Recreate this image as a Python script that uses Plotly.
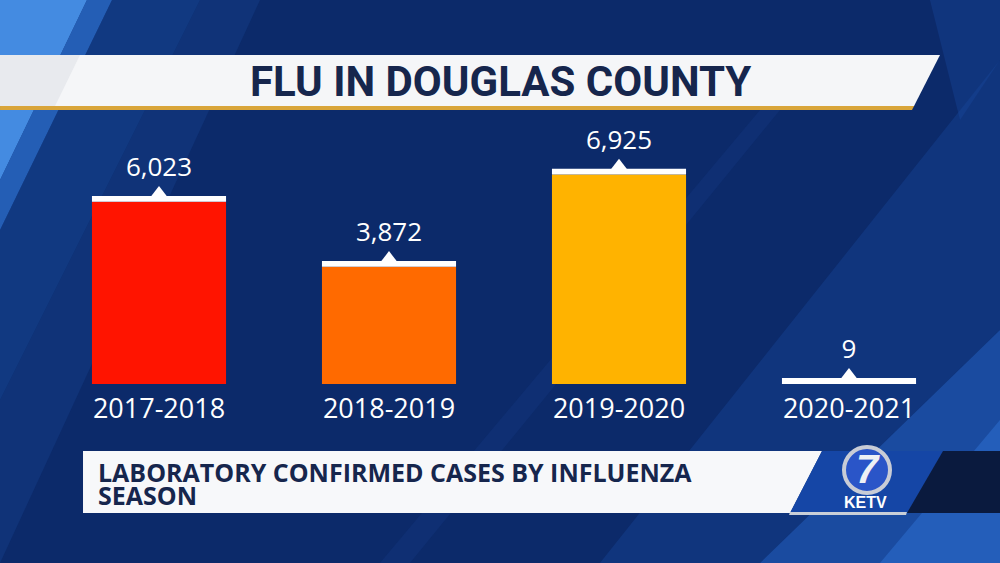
import plotly.graph_objects as go

# data
seasons = ["2017-2018", "2018-2019", "2019-2020", "2020-2021"]
cases = [6023, 3872, 6925, 9]
bar_colors = ["#ff1400", "#ff6a00", "#ffb300", "#ffffff"]
title_text = "FLU IN DOUGLAS COUNTY"
subtitle_lines = ["LABORATORY CONFIRMED CASES BY INFLUENZA", "SEASON"]

W, H = 1000, 563
ML, MR, MT, MB = 44, 36, 142, 179
CAP = 190  # white cap thickness in data units


def px(x):
    return (x - ML) / (W - ML - MR)


def py(y):
    return (H - MB - y) / (H - MT - MB)


def poly(points, color, opacity=1.0, layer="below"):
    d = "M " + " L ".join(f"{px(a):.4f},{py(b):.4f}" for a, b in points) + " Z"
    return dict(type="path", xref="paper", yref="paper", path=d,
                fillcolor=color, line=dict(width=0), opacity=opacity, layer=layer)


def label(x, y, text, font, **kw):
    return dict(x=px(x), y=py(y), xref="paper", yref="paper", text=text, showarrow=False,
                xanchor=kw.pop("xanchor", "center"), yanchor="middle", font=font, **kw)


fig = go.Figure()
fig.add_trace(go.Bar(x=seasons, y=cases, marker=dict(color=bar_colors, line=dict(width=0)),
                     hoverinfo="skip"))
fig.add_trace(go.Bar(x=seasons, y=[CAP] * len(cases), base=cases,
                     marker=dict(color="white", line=dict(width=0)), hoverinfo="skip"))
fig.add_trace(go.Scatter(x=seasons, y=[v + CAP for v in cases], mode="markers+text",
                         marker=dict(symbol="triangle-up", size=20, color="white"),
                         text=[f"{v:,}" for v in cases], textposition="top center",
                         textfont=dict(family="Open Sans", size=26, color="white"),
                         cliponaxis=False, hoverinfo="skip"))

shapes = [
    # background stripes
    poly([(0, 0), (87, 0), (0, 180)], "#4a96ee", 0.9),
    poly([(87, 0), (112, 0), (0, 230), (0, 180)], "#2f75d6", 0.7),
    poly([(0, 230), (112, 0), (200, 0), (0, 400)], "#1d55ad", 0.35),
    poly([(0, 400), (200, 0), (260, 0), (0, 563)], "#1a4ea3", 0.25),
    poly([(600, 563), (1000, 60), (1000, 330), (760, 563)], "#1b4fa8", 0.3),
    poly([(760, 563), (1000, 330), (1000, 563)], "#2563c4", 0.6),
    poly([(880, 563), (1000, 420), (1000, 563)], "#2e72d4", 0.5),
    poly([(930, 0), (1000, 0), (1000, 60), (960, 120)], "#1a4aa0", 0.35),
    poly([(380, 563), (760, 110), (780, 110), (410, 563)], "#163f90", 0.25),
    # title banner
    poly([(0, 55), (940, 55), (914, 106), (0, 106)], "#f5f6f8", 1, "above"),
    poly([(0, 55), (80, 55), (55, 106), (0, 106)], "#e8eaee", 1, "above"),
    poly([(0, 106), (914, 106), (912, 110), (0, 110)], "#d9a53a", 1, "above"),
    # lower third
    poly([(83, 451), (822, 451), (790, 513), (83, 513)], "#f7f8fa", 1, "above"),
    poly([(822, 451), (943, 451), (907, 513), (790, 513)], "#1546a6", 1, "above"),
    poly([(943, 451), (1000, 451), (1000, 513), (907, 513)], "#0a1a3e", 1, "above"),
    poly([(790, 512), (907, 512), (906, 515), (789, 515)], "#c9cfd8", 1, "above"),
    # logo circle
    dict(type="circle", xref="paper", yref="paper", x0=px(844), x1=px(890), y0=py(493), y1=py(447),
         fillcolor="#2a55c8", line=dict(color="#c8ccd6", width=4), layer="above"),
]

navy = "#16264d"
annotations = [
    label(500, 81, f"<b>{title_text}</b>", dict(family="Roboto", size=42, color=navy)),
    label(96, 472, f"<b>{subtitle_lines[0]}</b>", dict(family="Open Sans", size=25, color=navy),
          xanchor="left"),
    label(96, 495, f"<b>{subtitle_lines[1]}</b>", dict(family="Open Sans", size=25, color=navy),
          xanchor="left"),
    label(868, 469, "<b><i>7</i></b>", dict(family="Liberation Sans", size=40, color="#eef0f5")),
    label(865, 502, "<b>KETV</b>", dict(family="Liberation Sans", size=16, color="white")),
]

fig.update_layout(
    width=W, height=H,
    margin=dict(l=ML, r=MR, t=MT, b=MB),
    paper_bgcolor="#0c2a6a", plot_bgcolor="rgba(0,0,0,0)",
    barmode="overlay", bargap=0.417, showlegend=False,
    shapes=shapes, annotations=annotations,
    xaxis=dict(showgrid=False, zeroline=False, showline=False, ticks="",
               ticklabelstandoff=6,
               tickfont=dict(family="Open Sans", size=27, color="white")),
    yaxis=dict(range=[0, 8000], visible=False, showgrid=False, zeroline=False),
)

fig.write_html("out.html", config={"displayModeBar": False},
               post_script="document.body.style.margin='0px';")
